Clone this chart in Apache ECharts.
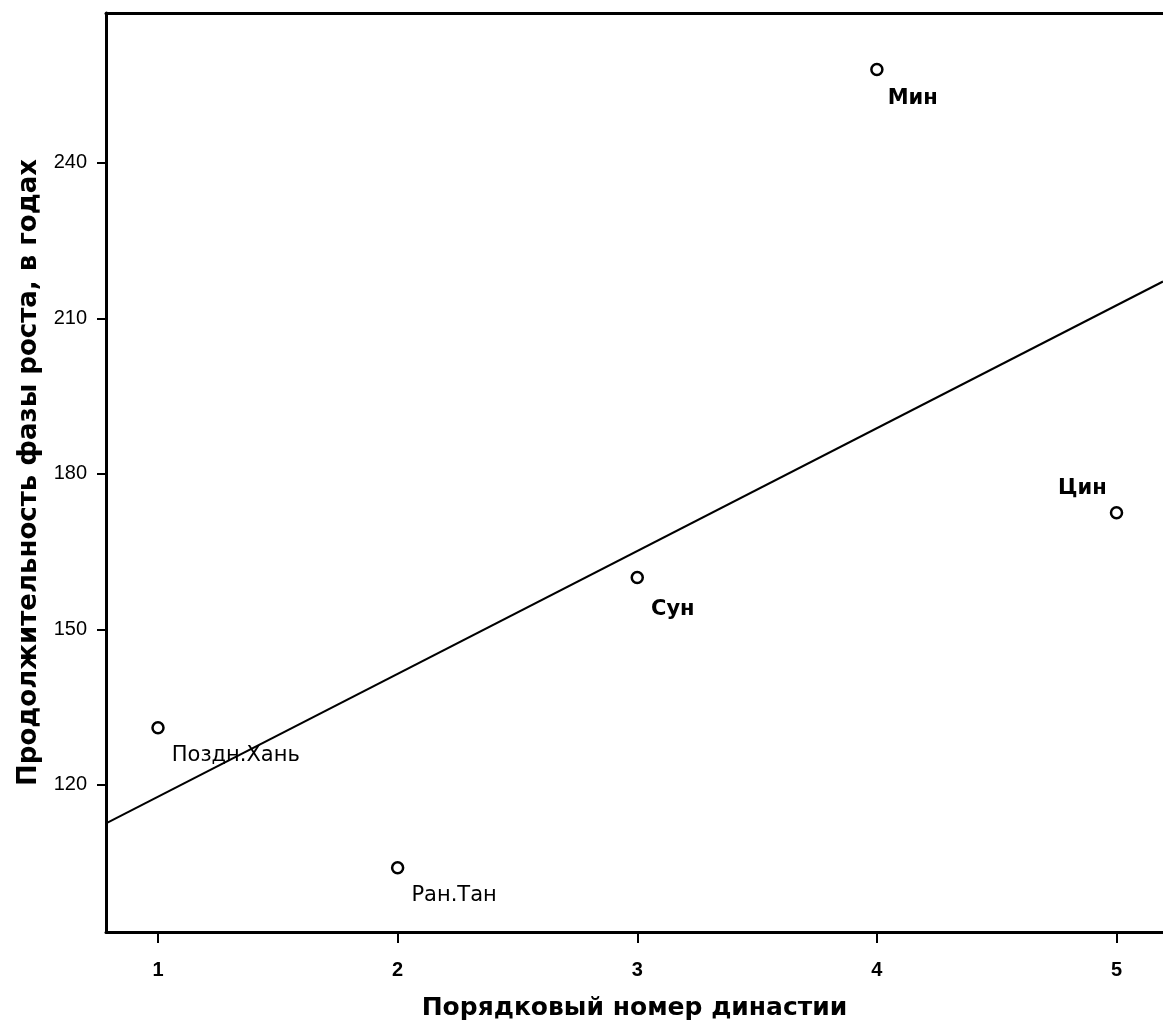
<!DOCTYPE html>
<html>
<head>
<meta charset="utf-8">
<script src="https://cdn.jsdelivr.net/npm/echarts@6/dist/echarts.min.js"></script>
<style>
  html, body { margin: 0; padding: 0; background: #fff; }
  #chart { width: 1163px; height: 1029px; }
</style>
</head>
<body>
<div id="chart"></div>
<script>
// Dynasties: ordinal number and duration of the growth phase (years)
const dynastyNames = ['Поздн.Хань', 'Ран.Тан', 'Сун', 'Мин', 'Цин'];
const dynastyOrder = [1, 2, 3, 4, 5];
const growthYears = [131, 104, 160, 258, 172.5];

const xTicks = [1, 2, 3, 4, 5];
const yTicks = [120, 150, 180, 210, 240];

const X_MIN = 0.783, X_MAX = 5.194;
const Y_MIN = 91.6, Y_MAX = 268.9;

// Least-squares fit across the dynasties
function linearFit(xs, ys) {
  const n = xs.length;
  const mx = xs.reduce((a, b) => a + b, 0) / n;
  const my = ys.reduce((a, b) => a + b, 0) / n;
  let sxy = 0, sxx = 0;
  for (let i = 0; i < n; i++) {
    sxy += (xs[i] - mx) * (ys[i] - my);
    sxx += (xs[i] - mx) * (xs[i] - mx);
  }
  const b = sxy / sxx;
  return { a: my - b * mx, b: b };
}
const fit = linearFit(dynastyOrder, growthYears);
const fitLine = [
  [X_MIN, fit.a + fit.b * X_MIN],
  [X_MAX, fit.a + fit.b * X_MAX]
];

const FONT = '"Liberation Sans", Arial, sans-serif';
const WIDE = '"DejaVu Sans", Verdana, sans-serif';
const NARROW = '"Liberation Sans Narrow", "Liberation Sans", Arial, sans-serif';

// Label placement per point
const labelStyles = [
  { position: 'right', offset: [2, 28], fontWeight: 'normal' },
  { position: 'right', offset: [2, 28], fontWeight: 'normal' },
  { position: 'right', offset: [2, 32], fontWeight: 'bold' },
  { position: 'right', offset: [-1, 29], fontWeight: 'bold' },
  { position: 'left', offset: [2, -24], fontWeight: 'bold' }
];

const points = dynastyOrder.map((x, i) => ({
  value: [x, growthYears[i]],
  name: dynastyNames[i],
  label: Object.assign({
    show: true,
    formatter: dynastyNames[i],
    fontFamily: WIDE,
    fontSize: 21,
    color: '#000'
  }, labelStyles[i])
}));

const chart = echarts.init(document.getElementById('chart'), null, { renderer: 'canvas' });
chart.setOption({
  animation: false,
  backgroundColor: '#fff',
  grid: { left: 106, top: 13, right: 0, bottom: 97, show: false },
  xAxis: [
    {
      type: 'value',
      min: X_MIN, max: X_MAX,
      name: 'Порядковый номер династии',
      nameLocation: 'middle',
      nameGap: 64,
      nameTextStyle: { fontFamily: WIDE, fontSize: 25, fontWeight: 'bold', color: '#000' },
      axisLine: { show: true, onZero: false, lineStyle: { color: '#000', width: 3 } },
      axisTick: { show: true, customValues: xTicks, length: 11, lineStyle: { color: '#000', width: 2 } },
      axisLabel: {
        customValues: xTicks, margin: 28,
        fontFamily: NARROW, fontSize: 20, fontWeight: 'bold', color: '#000'
      },
      splitLine: { show: false }
    },
    {
      // top frame line
      type: 'value',
      position: 'top',
      min: X_MIN, max: X_MAX,
      axisLine: { show: true, onZero: false, lineStyle: { color: '#000', width: 3 } },
      axisTick: { show: false },
      axisLabel: { show: false },
      splitLine: { show: false }
    }
  ],
  yAxis: {
    type: 'value',
    min: Y_MIN, max: Y_MAX,
    name: 'Продолжительность фазы роста, в годах',
    nameLocation: 'middle',
    nameGap: 64,
    nameRotate: 90,
    nameTextStyle: { fontFamily: WIDE, fontSize: 26, fontWeight: 'bold', color: '#000' },
    axisLine: { show: true, onZero: false, lineStyle: { color: '#000', width: 3 } },
    axisTick: { show: true, customValues: yTicks, length: 9, lineStyle: { color: '#000', width: 2 } },
    axisLabel: {
      customValues: yTicks, margin: 19,
      fontFamily: FONT, fontSize: 20, color: '#000'
    },
    splitLine: { show: false }
  },
  series: [
    {
      type: 'line',
      data: fitLine,
      showSymbol: false,
      symbol: 'none',
      lineStyle: { color: '#000', width: 2 },
      silent: true,
      z: 2
    },
    {
      type: 'scatter',
      data: points,
      symbol: 'circle',
      symbolSize: 11,
      itemStyle: { color: '#fff', borderColor: '#000', borderWidth: 2.5, opacity: 1 },
      z: 3
    }
  ]
});
</script>
</body>
</html>
